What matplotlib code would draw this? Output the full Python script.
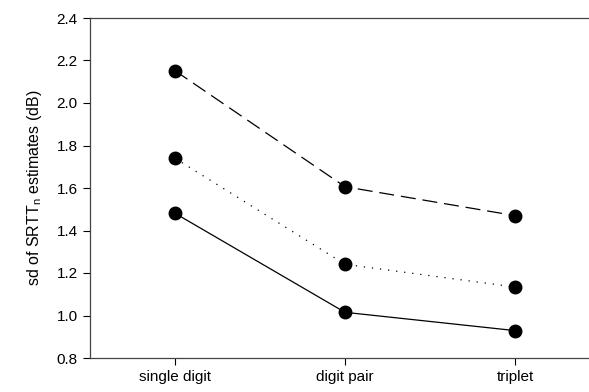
import matplotlib
matplotlib.use("Agg")
import matplotlib.pyplot as plt

plt.rcParams["font.family"] = ["Liberation Sans", "DejaVu Sans"]

conditions = ["single digit", "digit pair", "triplet"]
sd_dashed = [2.152, 1.606, 1.470]
sd_dotted = [1.740, 1.241, 1.134]
sd_solid = [1.481, 1.015, 0.929]
y_ticks = [0.8, 1.0, 1.2, 1.4, 1.6, 1.8, 2.0, 2.2, 2.4]

fig = plt.figure(figsize=(5.89, 3.92), dpi=100)
# axes runs past the right edge of the picture, as in the original
ax = fig.add_axes([90 / 589, 34 / 392, 510 / 589, 340 / 392])

x = list(range(1, len(conditions) + 1))
ax.plot(x, sd_dashed, color="black", lw=0.9, dashes=(12, 5.5),
        marker="o", ms=9, mfc="black", mec="black")
ax.plot(x, sd_dotted, color="black", lw=0.9, dashes=(1, 5.5),
        marker="o", ms=9, mfc="black", mec="black")
ax.plot(x, sd_solid, color="black", lw=0.9,
        marker="o", ms=9, mfc="black", mec="black")

ax.set_xlim(0.5, 3.5)
ax.set_ylim(0.8, 2.4)
ax.set_xticks(x)
ax.set_xticklabels(conditions)
ax.set_yticks(y_ticks)
ax.set_yticklabels([f"{v:.1f}" for v in y_ticks])
ax.tick_params(direction="out", length=5, width=0.8, labelsize=11, pad=4)
ax.set_ylabel("sd of SRTT$_\\mathregular{n}$ estimates (dB)", fontsize=11.5, labelpad=9)

for side in ("left", "bottom", "top"):
    ax.spines[side].set_linewidth(0.9)
    ax.spines[side].set_color("#444444")
ax.spines["right"].set_visible(False)

fig.savefig("out.png", dpi=100)
